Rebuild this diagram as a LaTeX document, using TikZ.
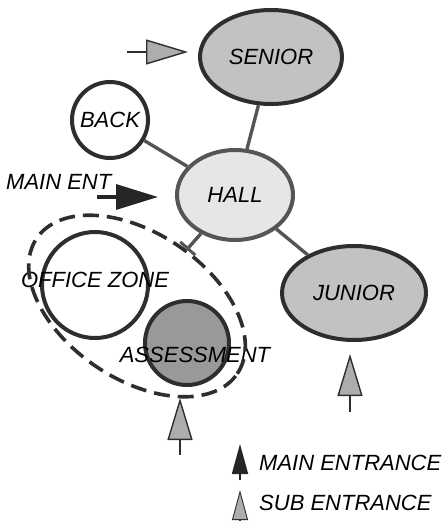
\documentclass[tikz,border=0pt]{standalone}
\usepackage{fontspec}
\setmainfont{Liberation Sans}
\usepackage{xcolor}
\usetikzlibrary{arrows.meta,positioning,shapes.geometric}
\definecolor{edgeGray}{HTML}{2E2E2E}
\definecolor{linkGray}{HTML}{555555}
\definecolor{stipDark}{HTML}{999999}
\definecolor{stipMid}{HTML}{C2C2C2}
\definecolor{stipLight}{HTML}{E6E6E6}
\tikzset{
  room text/.style={font=\fontsize{22}{26}\selectfont\itshape},
  room node/.style={room text,draw=edgeGray,line width=4pt,inner sep=0pt,align=center},
  senior node/.style={room node,ellipse,fill=stipMid,minimum width=142pt,minimum height=94pt},
  hall node/.style={room node,ellipse,fill=stipLight,draw=linkGray,minimum width=116pt,minimum height=90pt},
  open node/.style={room node,circle,fill=white},
  assess node/.style={room node,circle,fill=stipDark},
  zone line/.style={draw=edgeGray,line width=3.6pt,dash pattern=on 16pt off 8pt,ellipse,
    minimum width=242pt,minimum height=146pt,inner sep=0pt},
  link line/.style={draw=linkGray,line width=3.4pt},
  sub arrow/.style={draw=edgeGray,line width=2pt,
    -{Triangle[length=42pt,width=25pt,fill=stipDark!80,line width=1.4pt]}},
  main arrow/.style={draw=black!85,line width=3.4pt,-{Triangle[length=42pt,width=25pt]}},
  key main/.style={draw=black!85,line width=1.8pt,-{Triangle[length=30pt,width=16pt]}},
  key sub/.style={draw=edgeGray,line width=1.4pt,
    -{Triangle[length=30pt,width=16pt,fill=stipDark!80,line width=0.9pt]}}
}

\begin{document}
\begin{tikzpicture}[x=1pt,y=-1pt]
  \useasboundingbox (0,0) rectangle (446,521);
  % rooms
  \node[senior node] (senior) at (271,57) {SENIOR};
  \node[open node,minimum size=76pt] (back) at (110,120) {BACK};
  \node[hall node] (hall) at (235,195) {HALL};
  \node[senior node,minimum width=144pt] (junior) at (354,293) {JUNIOR};
  \node[open node,minimum size=106pt,
    label={[room text,yshift=5pt]center:OFFICE ZONE}] (office) at (95,285) {};
  \node[assess node,minimum size=84pt,
    label={[room text,xshift=8pt,yshift=-12pt]center:ASSESSMENT}] (assess) at (187,343) {};
  \node[zone line,rotate=-34] (zone) at (137,306) {};
  % links
  \draw[link line] (senior) -- (hall);
  \draw[link line] (back) -- (hall);
  \draw[link line] (hall) -- (junior);
  \draw[link line,-{Bar[width=20pt,line width=3pt]}] (hall) -- (zone);
  % entrances
  \node[room text,anchor=west,inner sep=0pt] (main ent) at (6,182) {MAIN ENT};
  \coordinate (main in) at (97,197);
  \draw[main arrow,shorten >=17pt] (main in) -- (main in -| hall.west);
  \coordinate (senior in) at (127,52);
  \draw[sub arrow,shorten >=10pt] (senior in) -- (senior in -| senior.west);
  \coordinate (assess in) at (180,455);
  \draw[sub arrow,shorten >=11pt] (assess in) -- (assess in |- assess.south);
  \coordinate (junior in) at (350,412);
  \draw[sub arrow,shorten >=12pt] (junior in) -- (junior in |- junior.south);
  % key
  \node[room text,anchor=west,inner sep=0pt] (key main txt) at (259,463) {MAIN ENTRANCE};
  \node[room text,anchor=west,inner sep=0pt] (key sub txt) at (259,503) {SUB ENTRANCE};
  \coordinate (key main foot) at (240,480);
  \coordinate (key main tip) at (240,444);
  \draw[key main] (key main foot) -- (key main tip);
  \coordinate (key sub foot) at (240,524);
  \coordinate (key sub tip) at (240,490);
  \draw[key sub] (key sub foot) -- (key sub tip);
\end{tikzpicture}
\end{document}
